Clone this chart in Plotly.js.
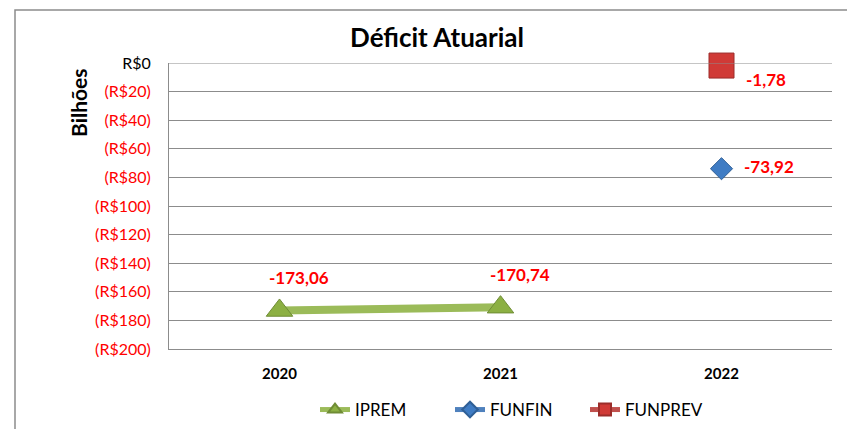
<!DOCTYPE html>
<html><head><meta charset="utf-8">
<script src="https://cdn.plot.ly/plotly-3.0.1.min.js"></script>
<style>html,body{margin:0;padding:0;background:#fff;}#chart{width:847px;height:429px;}</style>
</head><body><div id="chart"></div>
<script>
const categories = ["2020", "2021", "2022"];
const iprem = [-173.06, -170.74, null];
const funfin = [null, null, -73.92];
const funprev = [null, null, -1.78];
const ipremLabels = ["-173,06", "-170,74", ""];
const funfinLabels = ["", "", "-73,92"];
const funprevLabels = ["", "", "-1,78"];
const yTickVals = [0, -20, -40, -60, -80, -100, -120, -140, -160, -180, -200];
const yTickText = ["R$0", "(R$20)", "(R$40)", "(R$60)", "(R$80)", "(R$100)", "(R$120)", "(R$140)", "(R$160)", "(R$180)", "(R$200)"];

const FONT = "Lato, 'Open Sans', 'Liberation Sans', sans-serif";

const traces = [
  {name: "IPREM", x: categories, y: iprem, type: "scatter", mode: "lines+markers", cliponaxis: false,
   line: {color: "#9bbb59", width: 8},
   marker: {symbol: "triangle-up", size: 23, color: "#8cb043", line: {color: "#6f8c35", width: 1}}},
  {name: "FUNFIN", x: categories, y: funfin, type: "scatter", mode: "lines+markers", cliponaxis: false,
   line: {color: "#4f81bd", width: 8},
   marker: {symbol: "diamond", size: 17, color: "#3f7cc4", line: {color: "#2f5f96", width: 1}}},
  {name: "FUNPREV", x: categories, y: funprev, type: "scatter", mode: "lines+markers", cliponaxis: false,
   line: {color: "#c0504d", width: 8},
   marker: {symbol: "square", size: 25, color: "#d03a36", line: {color: "#9c2d2a", width: 1}}}
];

const annotations = [];
function addLabels(vals, labels, xs, ys) {
  vals.forEach((v, i) => {
    if (v === null) return;
    annotations.push({x: i, y: v, xref: "x", yref: "y", text: "<b>" + labels[i] + "</b>",
      showarrow: false, xshift: xs, yshift: ys, font: {family: FONT, size: 17, color: "#ff0000"}});
  });
}
addLabels(iprem, ipremLabels, 19, 33);
addLabels(funfin, funfinLabels, 47, 2);
addLabels(funprev, funprevLabels, 44, -14);

annotations.push({text: "<b>Bilhões</b>", xref: "paper", yref: "paper",
  x: (78 - 169) / 663, y: (349 - 102) / 286, textangle: -90, showarrow: false,
  xanchor: "center", yanchor: "middle", font: {family: FONT, size: 21, color: "#000"}});

const layout = {
  width: 847, height: 429,
  margin: {l: 169, r: 15, t: 63, b: 80, autoexpand: false},
  paper_bgcolor: "#fff", plot_bgcolor: "#fff",
  font: {family: FONT, color: "#000"},
  title: {text: "<b>Déficit Atuarial</b>", x: 437 / 847, xref: "container", y: 1 - 38 / 429, yref: "container",
    xanchor: "center", yanchor: "middle", font: {family: FONT, size: 26, color: "#000"}},
  xaxis: {type: "category", range: [-0.5, 2.5], showgrid: false, zeroline: false,
    showline: true, linecolor: "#8c8c8c", linewidth: 1, ticks: "", ticklabelstandoff: 11,
    tickfont: {family: FONT, size: 15, color: "#000", weight: "bold"}, fixedrange: true},
  yaxis: {range: [-200, 0], tickvals: yTickVals, ticktext: yTickText.map((t, i) => yTickVals[i] === 0 ? "<span style='color:#000'>" + t + "</span>" : t),
    showgrid: true, gridcolor: "#8c8c8c", gridwidth: 1, zeroline: false,
    showline: true, linecolor: "#8c8c8c", linewidth: 1, ticks: "", ticklabelstandoff: 14,
    tickfont: {family: FONT, size: 16, color: "#ff0000"}, fixedrange: true},
  showlegend: true,
  legend: {orientation: "h", x: (315 - 169) / 663, y: (349 - 410) / 286, xanchor: "left", yanchor: "middle",
    font: {family: FONT, size: 17, color: "#000"}, entrywidth: 90, entrywidthmode: "pixels", itemsizing: "constant"},
  annotations: annotations,
  shapes: [
    {type: "line", xref: "paper", yref: "y", x0: 0, x1: 1, y0: 0, y1: 0, line: {color: "#8c8c8c", width: 1}},
    {type: "rect", xref: "paper", yref: "paper", x0: (15 - 169) / 663, x1: 2, y0: -2, y1: (349 - 10) / 286,
     line: {color: "#8c8c8c", width: 1.5}, fillcolor: "rgba(0,0,0,0)"}
  ]
};

Plotly.newPlot("chart", traces, layout, {displayModeBar: false, staticPlot: true});
</script></body></html>
